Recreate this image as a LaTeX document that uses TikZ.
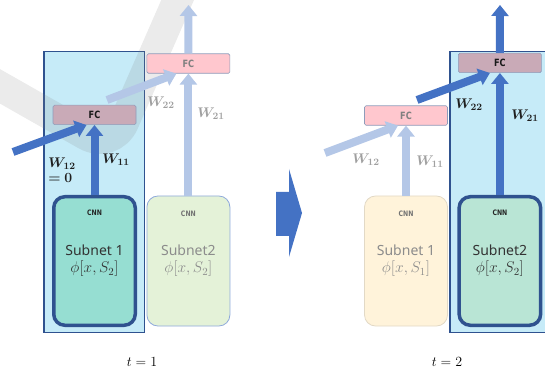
\RequirePackage{fix-cm}
\documentclass[tikz,border=0pt]{standalone}
\usepackage{amsmath,bm}
\usepackage{fontspec}
\setsansfont{Noto Sans}
\newfontfamily\tagfont{DejaVu Sans}[FakeStretch=0.82]
\usetikzlibrary{arrows.meta,positioning}

\definecolor{hlfill}{HTML}{C6EBF8}
\definecolor{hlline}{HTML}{2F528F}
\definecolor{armain}{HTML}{4472C4}
\definecolor{arfade}{HTML}{B4C7E7}
\definecolor{fcpink}{HTML}{FFC7CE}
\definecolor{fcmauve}{HTML}{C9AAB7}
\definecolor{fcline}{HTML}{8E9CBA}
\definecolor{subteal}{HTML}{96DED2}
\definecolor{submint}{HTML}{B9E5D5}
\definecolor{subgreen}{HTML}{E4F2D8}
\definecolor{subcream}{HTML}{FFF3DA}
\definecolor{greenedge}{HTML}{8EA9DB}
\definecolor{creamedge}{HTML}{E2D9C6}
\definecolor{fadetext}{HTML}{8C8C8C}
\definecolor{fadelabel}{HTML}{A0A0A0}

\newcommand{\philine}[1]{{\fontsize{15.5}{17}\selectfont$\phi[x,S_{#1}]$}}

\begin{document}
\begin{tikzpicture}[x=1pt,y=1pt,>={Triangle[width=17pt,length=11pt]},node distance=9.5pt]
  \tikzstyle{hlbox}=[draw=hlline,line width=1.5pt,fill=hlfill,inner sep=0pt,minimum width=100.5pt,minimum height=280.5pt]
  \tikzstyle{fcbox}=[draw=fcline,line width=0.6pt,rounded corners=1.5pt,minimum width=83pt,minimum height=19.5pt,inner sep=0pt,font=\tagfont\bfseries\fontsize{10}{10}\selectfont]
  \tikzstyle{fcon}=[fcbox,fill=fcmauve,text=black!90]
  \tikzstyle{fcoff}=[fcbox,fill=fcpink,text=black!50]
  \tikzstyle{subbox}=[rounded corners=11pt,inner sep=0pt,align=center,font=\sffamily\fontsize{14}{17}\selectfont]
  \tikzstyle{subon}=[subbox,draw=hlline,line width=3.5pt,minimum width=81.5pt,minimum height=128.5pt,text=black!80]
  \tikzstyle{suboff}=[subbox,line width=0.8pt,minimum width=83pt,minimum height=130pt,text=fadetext]
  \tikzstyle{cnn}=[font=\tagfont\bfseries\fontsize{7.5}{8}\selectfont]
  \tikzstyle{wire}=[->,line width=8pt,armain]
  \tikzstyle{wirefade}=[->,line width=8pt,arfade]
  \tikzstyle{wlab}=[font=\fontsize{14}{15}\selectfont,text=black!88,align=left,inner sep=0pt]
  \tikzstyle{wlabfade}=[wlab,text=fadelabel]
  \tikzstyle{swoosh}=[line width=30pt,black!50,opacity=0.16,rounded corners=30pt]

  \useasboundingbox (0,0) rectangle (545,372);
  \clip (0,0) rectangle (545,372);

  % highlighted subnets
  \node[hlbox] (hlA) at (94,180) {};
  \node[hlbox,minimum width=110pt] (hlB) at (505,180) {};
  \draw[swoosh] (-20,297) -- (112,222) -- (182,382);

  % t = 1
  \node[subon,fill=subteal] (sub1A) at (94.5,111) {Subnet 1\\\philine{2}};
  \node[suboff,fill=subgreen,draw=greenedge,right=of sub1A] (sub2A) {Subnet2\\\philine{2}};
  \node[fcon,above=70pt of sub1A] (fc1A) {FC};
  \node[fcoff,above=122pt of sub2A] (fc2A) {FC};
  \node[cnn,text=black!85] (cnn1A) at ([yshift=-18pt]sub1A.north) {CNN};
  \node[cnn,text=black!55] (cnn2A) at ([yshift=-18pt]sub2A.north) {CNN};
  \coordinate (in12A) at (13,220);
  \coordinate (src22A) at (107,272);
  \coordinate (outA) at (188.5,367);
  \draw[wirefade] (src22A) -- ([xshift=-12pt]fc2A.south);
  \draw[wirefade] (sub2A.north) -- (fc2A.south);
  \draw[wirefade] (fc2A.north) -- (outA);
  \draw[wire] (sub1A.north) -- (fc1A.south);
  \draw[wire] (in12A) -- ([xshift=-8pt]fc1A.south);
  \node[wlab] (w12A) at (62,202) {$\bm{W_{12}}$\\$\bm{=0}$};
  \node[wlab] (w11A) at (116,212) {$\bm{W_{11}}$};
  \node[wlabfade] (w22A) at (161,269) {$\bm{W_{22}}$};
  \node[wlabfade] (w21A) at (211,258) {$\bm{W_{21}}$};
  \node[font=\fontsize{14}{15}\selectfont] (tA) at (142,10) {$t=1$};

  % step to t = 2
  \fill[armain] (276,180) -- (289,180) -- (289,203) -- (302,159) -- (289,115) -- (289,136) -- (276,136) -- cycle;

  % t = 2
  \node[suboff,fill=subcream,draw=creamedge] (sub1B) at (406,111) {Subnet 1\\\philine{1}};
  \node[subon,fill=submint,right=of sub1B] (sub2B) {Subnet2\\\philine{2}};
  \node[fcoff,above=70pt of sub1B] (fc1B) {FC};
  \node[fcon,above=122pt of sub2B] (fc2B) {FC};
  \node[cnn,text=black!55] (cnn1B) at ([yshift=-18pt]sub1B.north) {CNN};
  \node[cnn,text=black!85] (cnn2B) at ([yshift=-18pt]sub2B.north) {CNN};
  \coordinate (in12B) at (325,219);
  \coordinate (src22B) at (417,272);
  \coordinate (outB) at (500,367);
  \draw[wirefade] (sub1B.north) -- (fc1B.south);
  \draw[wirefade] (in12B) -- ([xshift=-8pt]fc1B.south);
  \draw[wire] (src22B) -- ([xshift=-10pt]fc2B.south);
  \draw[wire] (sub2B.north) -- (fc2B.south);
  \draw[wire] (fc2B.north) -- (outB);
  \node[wlabfade] (w12B) at (366,212) {$\bm{W_{12}}$};
  \node[wlabfade] (w11B) at (430,210) {$\bm{W_{11}}$};
  \node[wlab] (w22B) at (469,267) {$\bm{W_{22}}$};
  \node[wlab] (w21B) at (525,256) {$\bm{W_{21}}$};
  \node[font=\fontsize{14}{15}\selectfont] (tB) at (447,10) {$t=2$};
\end{tikzpicture}
\end{document}
